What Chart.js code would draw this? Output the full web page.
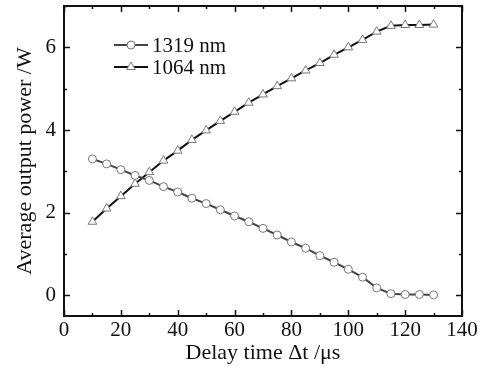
<!DOCTYPE html>
<html>
<head>
<meta charset="utf-8">
<script src="https://cdn.jsdelivr.net/npm/chart.js@4.4.0/dist/chart.umd.min.js"></script>
<style>
  html, body { margin: 0; padding: 0; background: #fff; }
  #wrap { width: 490px; height: 368px; position: relative; }
</style>
</head>
<body>
<div id="wrap"><canvas id="powerChart"></canvas></div>
<script>
// Delay time (us) and average output power (W)
const delayTimes = [10, 15, 20, 25, 30, 35, 40, 45, 50, 55, 60, 65, 70, 75, 80, 85, 90, 95, 100, 105, 110, 115, 120, 125, 130];
const power1319 = [3.30, 3.18, 3.04, 2.90, 2.78, 2.63, 2.50, 2.35, 2.22, 2.07, 1.92, 1.78, 1.62, 1.46, 1.29, 1.14, 0.96, 0.80, 0.63, 0.44, 0.18, 0.04, 0.02, 0.02, 0.01];
const power1064 = [1.78, 2.10, 2.40, 2.70, 2.98, 3.26, 3.50, 3.76, 3.99, 4.22, 4.44, 4.66, 4.86, 5.06, 5.25, 5.44, 5.62, 5.82, 6.00, 6.18, 6.38, 6.52, 6.54, 6.54, 6.55];
const seriesNames = ['1319 nm', '1064 nm'];
const xTickValues = [0, 20, 40, 60, 80, 100, 120, 140];
const yTickValues = [0, 2, 4, 6];

const serif = "'Liberation Serif', 'DejaVu Serif', serif";

// frame, inward ticks and the in-plot legend
const framePlugin = {
  id: 'frame',
  afterDraw(chart) {
    const ctx = chart.ctx;
    const a = chart.chartArea;
    const xs = chart.scales.x, ys = chart.scales.y;
    ctx.save();
    ctx.strokeStyle = '#111';
    ctx.lineWidth = 2;
    ctx.strokeRect(a.left, a.top, a.right - a.left, a.bottom - a.top);

    ctx.lineWidth = 1.5;
    ctx.beginPath();
    for (let v = 0; v <= 140; v += 10) {
      const px = Math.round(xs.getPixelForValue(v)) + 0.5;
      const len = v % 20 === 0 ? 6 : 3;
      ctx.moveTo(px, a.bottom); ctx.lineTo(px, a.bottom - len);
      ctx.moveTo(px, a.top); ctx.lineTo(px, a.top + len);
    }
    for (let v = 0; v <= 7; v += 1) {
      const py = Math.round(ys.getPixelForValue(v)) + 0.5;
      const len = v % 2 === 0 ? 6 : 3;
      ctx.moveTo(a.left, py); ctx.lineTo(a.left + len, py);
      ctx.moveTo(a.right, py); ctx.lineTo(a.right - len, py);
    }
    ctx.stroke();

    // legend
    chart.data.datasets.forEach((ds, i) => {
      const y = a.top + 39 + i * 22;
      const x0 = a.left + 50;
      ctx.strokeStyle = ds.borderColor;
      ctx.lineWidth = 2;
      ctx.beginPath();
      ctx.moveTo(x0, y); ctx.lineTo(x0 + 34, y);
      ctx.stroke();
      ctx.fillStyle = '#fff';
      ctx.strokeStyle = ds.pointBorderColor;
      ctx.lineWidth = 1;
      ctx.beginPath();
      if (ds.pointStyle === 'triangle') {
        const r = 5;
        ctx.moveTo(x0 + 17, y - r);
        ctx.lineTo(x0 + 17 + r * 0.87, y + r * 0.5);
        ctx.lineTo(x0 + 17 - r * 0.87, y + r * 0.5);
        ctx.closePath();
      } else {
        ctx.arc(x0 + 17, y, 4, 0, Math.PI * 2);
      }
      ctx.fill(); ctx.stroke();
      ctx.fillStyle = '#111';
      ctx.font = '21px ' + serif;
      ctx.textBaseline = 'middle';
      ctx.fillText(ds.label, x0 + 38, y + 1);
    });
    ctx.restore();
  }
};

new Chart(document.getElementById('powerChart'), {
  type: 'line',
  data: {
    datasets: [
      {
        label: seriesNames[0],
        data: delayTimes.map((t, i) => ({ x: t, y: power1319[i] })),
        borderColor: '#444',
        borderWidth: 2,
        pointStyle: 'circle',
        pointRadius: 4,
        pointBorderWidth: 1,
        pointBorderColor: '#777',
        pointBackgroundColor: '#fff',
        tension: 0
      },
      {
        label: seriesNames[1],
        data: delayTimes.map((t, i) => ({ x: t, y: power1064[i] })),
        borderColor: '#111',
        borderWidth: 2,
        pointStyle: 'triangle',
        pointRadius: 5,
        pointBorderWidth: 1,
        pointBorderColor: '#777',
        pointBackgroundColor: '#fff',
        tension: 0
      }
    ]
  },
  options: {
    responsive: true,
    maintainAspectRatio: false,
    animation: false,
    layout: { padding: { top: 4, right: 28, left: 0, bottom: 0 } },
    plugins: {
      legend: { display: false },
      tooltip: { enabled: false }
    },
    scales: {
      x: {
        type: 'linear',
        min: 0,
        max: 140,
        grid: { display: false, drawTicks: false, tickLength: 0 },
        border: { display: false },
        afterBuildTicks: s => { s.ticks = xTickValues.map(v => ({ value: v })); },
        afterFit: s => { s.height = 52; s.paddingLeft = 0; s.paddingRight = 0; },
        ticks: { color: '#111', padding: 2, maxRotation: 0, font: { family: serif, size: 21 } },
        title: {
          display: true,
          text: 'Delay time Δt /μs',
          color: '#111',
          padding: { top: 0, bottom: 2 },
          font: { family: serif, size: 22 }
        }
      },
      y: {
        min: -0.5,
        max: 7,
        grid: { display: false, drawTicks: false, tickLength: 0 },
        border: { display: false },
        afterBuildTicks: s => { s.ticks = yTickValues.map(v => ({ value: v })); },
        afterFit: s => { s.width = 64; s.paddingTop = 0; s.paddingBottom = 0; },
        ticks: { color: '#111', padding: 8, font: { family: serif, size: 21 } },
        title: {
          display: true,
          text: 'Average output power /W',
          color: '#111',
          padding: { top: 12, bottom: 0 },
          font: { family: serif, size: 22 }
        }
      }
    }
  },
  plugins: [framePlugin]
});
</script>
</body>
</html>
